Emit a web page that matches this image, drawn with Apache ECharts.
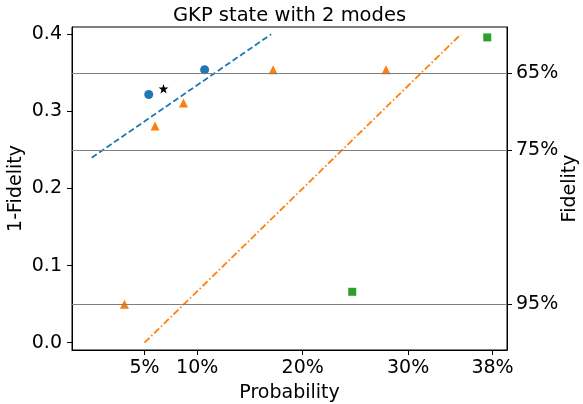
<!DOCTYPE html>
<html>
<head>
<meta charset="utf-8">
<script src="https://cdn.jsdelivr.net/npm/echarts@6/dist/echarts.min.js"></script>
<style>
html,body{margin:0;padding:0;background:#fff;}
#c{width:583px;height:404px;}
</style>
</head>
<body>
<div id="c"></div>
<script>
// ---- data ----
const xTicks = [0.05, 0.10, 0.20, 0.30, 0.38];
const yTicks = [0.0, 0.1, 0.2, 0.3, 0.4];
const fidelityLevels = [0.65, 0.75, 0.95];

const circleX = [0.054, 0.107];
const circleY = [0.322, 0.354];
const starX = [0.068];
const starY = [0.3295];
const triX = [0.031, 0.060, 0.087, 0.172, 0.279];
const triY = [0.050, 0.281, 0.311, 0.354, 0.354];
const squareX = [0.247, 0.375];
const squareY = [0.066, 0.396];
const blueLineX = [0.0, 0.17];
const blueLineY = [0.24, 0.40];
const orangeLineX = [0.05, 0.35];
const orangeLineY = [0.0, 0.40];

const zip = (a, b) => a.map((v, i) => [v, b[i]]);
const fidPos = fidelityLevels.map(f => +(1 - f).toFixed(4));

const FONT = 'DejaVu Sans';
const starPath = 'path://M50,0L61.17,34.63L97.55,34.55L68.07,55.87L79.39,90.45L50,69L20.61,90.45L31.93,55.87L2.45,34.55L38.83,34.63Z';

const chart = echarts.init(document.getElementById('c'), null, {renderer: 'canvas'});
chart.setOption({
  animation: false,
  backgroundColor: '#fff',
  title: {
    text: 'GKP state with 2 modes',
    left: 168, top: 1,
    textStyle: {fontFamily: FONT, fontSize: 19.5, fontWeight: 'normal', color: '#000'}
  },
  grid: {left: 72, right: 76, top: 27, bottom: 54, containLabel: false, outerBoundsMode: 'none',
    show: true, borderColor: '#000', borderWidth: 1, backgroundColor: 'transparent'},
  xAxis: {
    type: 'value', min: -0.01875, max: 0.39375,
    name: 'Probability', nameLocation: 'middle', nameGap: 34, nameMoveOverlap: false,
    nameTextStyle: {fontFamily: FONT, fontSize: 19, color: '#000'},
    axisLine: {show: true, onZero: false, lineStyle: {color: '#000', width: 1}},
    axisTick: {show: true, customValues: xTicks, length: 5, lineStyle: {color: '#000'}},
    axisLabel: {customValues: xTicks, margin: 9, fontFamily: FONT, fontSize: 19, color: '#000',
      formatter: v => Math.round(v * 100) + '%'},
    splitLine: {show: false}
  },
  yAxis: [{
    type: 'value', min: -0.0095, max: 0.4095, position: 'left',
    name: '1-Fidelity', nameLocation: 'middle', nameGap: 46, nameRotate: 90, nameMoveOverlap: false,
    nameTextStyle: {fontFamily: FONT, fontSize: 19, color: '#000'},
    axisLine: {show: true, onZero: false, lineStyle: {color: '#000', width: 1}},
    axisTick: {show: true, customValues: yTicks, length: 5, lineStyle: {color: '#000'}},
    axisLabel: {customValues: yTicks, margin: 10, fontFamily: FONT, fontSize: 19, color: '#000',
      formatter: v => v.toFixed(1)},
    splitLine: {show: false}
  }, {
    type: 'value', min: -0.0095, max: 0.4095, position: 'right',
    name: 'Fidelity', nameLocation: 'middle', nameGap: 54, nameRotate: 90, nameMoveOverlap: false,
    nameTextStyle: {fontFamily: FONT, fontSize: 19, color: '#000'},
    axisLine: {show: true, onZero: false, lineStyle: {color: '#000', width: 1}},
    axisTick: {show: true, customValues: fidPos, length: 5, lineStyle: {color: '#000'}},
    axisLabel: {customValues: fidPos, margin: 9, fontFamily: FONT, fontSize: 19, color: '#000',
      formatter: v => Math.round((1 - v) * 100) + '%'},
    splitLine: {show: false}
  }],
  series: [
    {
      type: 'line', data: zip(blueLineX, blueLineY), showSymbol: false, symbol: 'none',
      lineStyle: {color: '#1f77b4', width: 1.8, type: [6, 3]}, z: 2,
      markLine: {
        silent: true, symbol: ['none', 'none'], label: {show: false},
        lineStyle: {color: '#808080', width: 1.2, type: 'solid'},
        data: fidPos.map(v => ({yAxis: v}))
      }
    },
    {
      type: 'line', data: zip(orangeLineX, orangeLineY), showSymbol: false, symbol: 'none',
      lineStyle: {color: '#ff7f0e', width: 1.8, type: [7, 2.5, 1.5, 2.5]}, z: 2
    },
    {
      type: 'scatter', data: zip(circleX, circleY), symbol: 'circle', symbolSize: 9,
      itemStyle: {color: '#1f77b4', opacity: 1}, z: 3
    },
    {
      type: 'scatter', data: zip(starX, starY), symbol: starPath, symbolSize: 10, symbolKeepAspect: true,
      itemStyle: {color: '#000', opacity: 1}, z: 3
    },
    {
      type: 'scatter', data: zip(triX, triY), symbol: 'triangle', symbolSize: 9,
      itemStyle: {color: '#ff7f0e', opacity: 1}, z: 3
    },
    {
      type: 'scatter', data: zip(squareX, squareY), symbol: 'rect', symbolSize: 8,
      itemStyle: {color: '#2ca02c', opacity: 1}, z: 3
    }
  ]
});
</script>
</body>
</html>
